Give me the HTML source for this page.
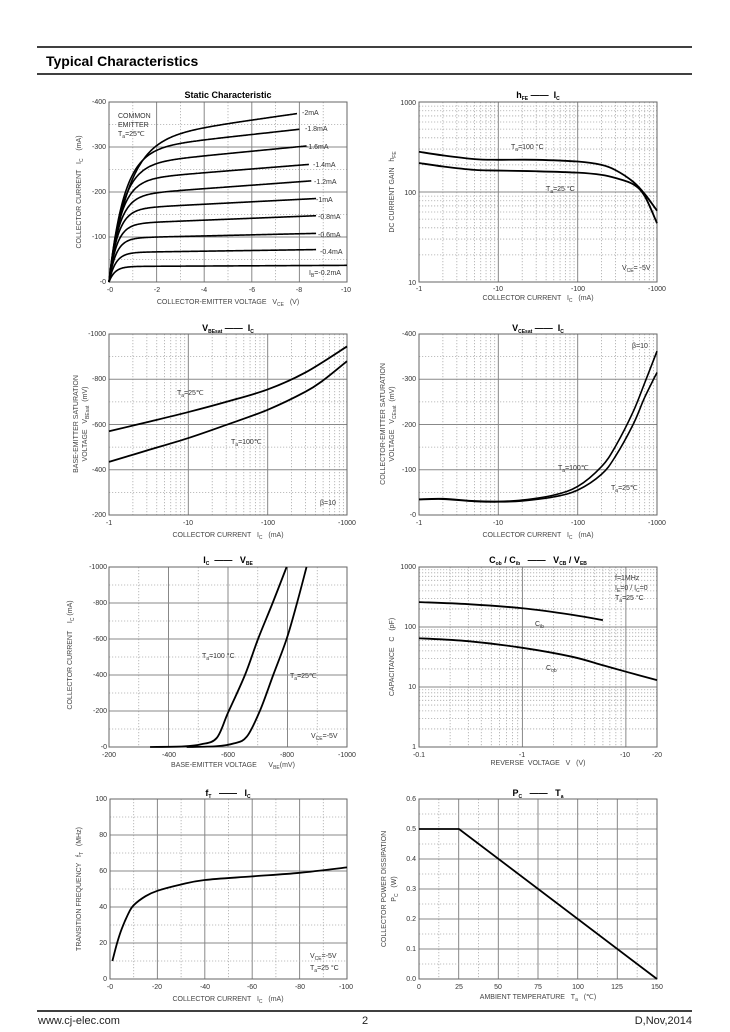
<!DOCTYPE html>
<html><head><meta charset="utf-8"><style>
html,body{margin:0;padding:0;background:#fff}
svg{display:block}
text{font-family:"Liberation Sans",Arial,sans-serif;fill:#333}
.t{font-size:7px;fill:#444}
.a{font-size:7px;fill:#444}
.h{font-size:9px;font-weight:bold;fill:#000}
.s{font-size:5px}
</style></head><body>
<svg id="s" width="730" height="1032" viewBox="0 0 730 1032" xmlns="http://www.w3.org/2000/svg">
<rect width="730" height="1032" fill="#fff"/>
<line x1="37" y1="47" x2="692" y2="47" stroke="#000" stroke-width="1.6"/>
<line x1="37" y1="74" x2="692" y2="74" stroke="#000" stroke-width="1.6"/>
<text x="46" y="66" style="font-size:14px;font-weight:bold;fill:#000">Typical Characteristics</text>
<line x1="37" y1="1011" x2="692" y2="1011" stroke="#000" stroke-width="1.6"/>
<text x="38" y="1024" style="font-size:11px;fill:#222">www.cj-elec.com</text>
<text x="362" y="1024" style="font-size:11px;fill:#222">2</text>
<text x="692" y="1024" text-anchor="end" style="font-size:11px;fill:#222">D,Nov,2014</text>
<g id="g"></g>

<!-- Chart 1 -->
<text class="h" x="228" y="98" text-anchor="middle">Static Characteristic</text>
<g class="t" text-anchor="end"><text x="106" y="104">-400</text><text x="106" y="149">-300</text><text x="106" y="194">-200</text><text x="106" y="239">-100</text><text x="106" y="284">-0</text></g>
<g class="t" text-anchor="middle"><text x="110" y="292">-0</text><text x="157" y="292">-2</text><text x="204" y="292">-4</text><text x="252" y="292">-6</text><text x="299" y="292">-8</text><text x="346" y="292">-10</text></g>
<text class="a" x="228" y="304" text-anchor="middle">COLLECTOR-EMITTER VOLTAGE &#160;&#160;V<tspan class="s" dy="2">CE</tspan><tspan dy="-2"> &#160;&#160;(V)</tspan></text>
<text class="a" transform="translate(81,192) rotate(-90)" text-anchor="middle">COLLECTOR CURRENT &#160;&#160;I<tspan class="s" dy="2">C</tspan><tspan dy="-2"> &#160;&#160;&#160;(mA)</tspan></text>
<g class="a"><text x="118" y="118">COMMON</text><text x="118" y="127">EMITTER</text><text x="118" y="136">T<tspan class="s" dy="2">a</tspan><tspan dy="-2">=25℃</tspan></text>
<text x="302" y="115">-2mA</text><text x="305" y="131">-1.8mA</text><text x="306" y="149">-1.6mA</text><text x="313" y="167">-1.4mA</text><text x="314" y="184">-1.2mA</text><text x="316" y="202">-1mA</text><text x="318" y="219">-0.8mA</text><text x="318" y="237">-0.6mA</text><text x="320" y="254">-0.4mA</text><text x="309" y="275">I<tspan class="s" dy="2">B</tspan><tspan dy="-2">=-0.2mA</tspan></text></g>

<!-- Chart 2 -->
<text class="h" x="538" y="98" text-anchor="middle">h<tspan class="s" dy="2">FE</tspan><tspan dy="-2"> —— &#160;I</tspan><tspan class="s" dy="2">C</tspan></text>
<g class="t" text-anchor="end"><text x="416" y="105">1000</text><text x="416" y="195">100</text><text x="416" y="285">10</text></g>
<g class="t" text-anchor="middle"><text x="419" y="291">-1</text><text x="498" y="291">-10</text><text x="578" y="291">-100</text><text x="657" y="291">-1000</text></g>
<text class="a" x="538" y="300" text-anchor="middle">COLLECTOR CURRENT &#160;&#160;I<tspan class="s" dy="2">C</tspan><tspan dy="-2"> &#160;&#160;(mA)</tspan></text>
<text class="a" transform="translate(394,192) rotate(-90)" text-anchor="middle">DC CURRENT GAIN &#160;&#160;h<tspan class="s" dy="2">FE</tspan></text>
<g class="a"><text x="511" y="149">T<tspan class="s" dy="2">a</tspan><tspan dy="-2">=100 °C</tspan></text><text x="546" y="191">T<tspan class="s" dy="2">a</tspan><tspan dy="-2">=25 °C</tspan></text><text x="622" y="270">V<tspan class="s" dy="2">CE</tspan><tspan dy="-2">= -5V</tspan></text></g>

<!-- Chart 3 -->
<text class="h" x="228" y="331" text-anchor="middle">V<tspan class="s" dy="2">BEsat</tspan><tspan dy="-2"> —— &#160;I</tspan><tspan class="s" dy="2">C</tspan></text>
<g class="t" text-anchor="end"><text x="106" y="336">-1000</text><text x="106" y="381">-800</text><text x="106" y="427">-600</text><text x="106" y="472">-400</text><text x="106" y="517">-200</text></g>
<g class="t" text-anchor="middle"><text x="109" y="525">-1</text><text x="188" y="525">-10</text><text x="268" y="525">-100</text><text x="347" y="525">-1000</text></g>
<text class="a" x="228" y="537" text-anchor="middle">COLLECTOR CURRENT &#160;&#160;I<tspan class="s" dy="2">C</tspan><tspan dy="-2"> &#160;&#160;(mA)</tspan></text>
<text class="a" transform="translate(78,424) rotate(-90)" text-anchor="middle">BASE-EMITTER SATURATION</text>
<text class="a" transform="translate(87,424) rotate(-90)" text-anchor="middle">VOLTAGE &#160;&#160;V<tspan class="s" dy="2">BEsat</tspan><tspan dy="-2"> &#160;(mV)</tspan></text>
<g class="a"><text x="177" y="395">T<tspan class="s" dy="2">a</tspan><tspan dy="-2">=25℃</tspan></text><text x="231" y="444">T<tspan class="s" dy="2">a</tspan><tspan dy="-2">=100℃</tspan></text><text x="320" y="505">β=10</text></g>

<!-- Chart 4 -->
<text class="h" x="538" y="331" text-anchor="middle">V<tspan class="s" dy="2">CEsat</tspan><tspan dy="-2"> —— &#160;I</tspan><tspan class="s" dy="2">C</tspan></text>
<g class="t" text-anchor="end"><text x="416" y="336">-400</text><text x="416" y="381">-300</text><text x="416" y="427">-200</text><text x="416" y="472">-100</text><text x="416" y="517">-0</text></g>
<g class="t" text-anchor="middle"><text x="419" y="525">-1</text><text x="498" y="525">-10</text><text x="578" y="525">-100</text><text x="657" y="525">-1000</text></g>
<text class="a" x="538" y="537" text-anchor="middle">COLLECTOR CURRENT &#160;&#160;I<tspan class="s" dy="2">C</tspan><tspan dy="-2"> &#160;&#160;(mA)</tspan></text>
<text class="a" transform="translate(385,424) rotate(-90)" text-anchor="middle">COLLECTOR-EMITTER SATURATION</text>
<text class="a" transform="translate(394,424) rotate(-90)" text-anchor="middle">VOLTAGE &#160;&#160;V<tspan class="s" dy="2">CEsat</tspan><tspan dy="-2"> &#160;(mV)</tspan></text>
<g class="a"><text x="558" y="470">T<tspan class="s" dy="2">a</tspan><tspan dy="-2">=100℃</tspan></text><text x="611" y="490">T<tspan class="s" dy="2">a</tspan><tspan dy="-2">=25℃</tspan></text><text x="632" y="348">β=10</text></g>

<!-- Chart 5 -->
<text class="h" x="228" y="563" text-anchor="middle">I<tspan class="s" dy="2">C</tspan><tspan dy="-2"> &#160;—— &#160;&#160;V</tspan><tspan class="s" dy="2">BE</tspan></text>
<g class="t" text-anchor="end"><text x="107" y="569">-1000</text><text x="107" y="605">-800</text><text x="107" y="641">-600</text><text x="107" y="677">-400</text><text x="107" y="713">-200</text><text x="107" y="749">-0</text></g>
<g class="t" text-anchor="middle"><text x="109" y="757">-200</text><text x="169" y="757">-400</text><text x="228" y="757">-600</text><text x="287" y="757">-800</text><text x="347" y="757">-1000</text></g>
<text class="a" x="233" y="767" text-anchor="middle">BASE-EMITTER VOLTAGE &#160;&#160;&#160;&#160;&#160;V<tspan class="s" dy="2">BE</tspan><tspan dy="-2">(mV)</tspan></text>
<text class="a" transform="translate(72,655) rotate(-90)" text-anchor="middle">COLLECTOR CURRENT &#160;&#160;&#160;I<tspan class="s" dy="2">C</tspan><tspan dy="-2"> (mA)</tspan></text>
<g class="a"><text x="202" y="658">T<tspan class="s" dy="2">a</tspan><tspan dy="-2">=100 °C</tspan></text><text x="290" y="678">T<tspan class="s" dy="2">a</tspan><tspan dy="-2">=25℃</tspan></text><text x="311" y="738">V<tspan class="s" dy="2">CE</tspan><tspan dy="-2">=-5V</tspan></text></g>

<!-- Chart 6 -->
<text class="h" x="538" y="563" text-anchor="middle">C<tspan class="s" dy="2">ob</tspan><tspan dy="-2"> / C</tspan><tspan class="s" dy="2">ib</tspan><tspan dy="-2"> &#160;&#160;—— &#160;&#160;V</tspan><tspan class="s" dy="2">CB</tspan><tspan dy="-2"> / V</tspan><tspan class="s" dy="2">EB</tspan></text>
<g class="t" text-anchor="end"><text x="416" y="569">1000</text><text x="416" y="629">100</text><text x="416" y="689">10</text><text x="416" y="749">1</text></g>
<g class="t" text-anchor="middle"><text x="419" y="757">-0.1</text><text x="522" y="757">-1</text><text x="625" y="757">-10</text><text x="657" y="757">-20</text></g>
<text class="a" x="538" y="765" text-anchor="middle">REVERSE &#160;VOLTAGE &#160;&#160;V &#160;&#160;(V)</text>
<text class="a" transform="translate(394,657) rotate(-90)" text-anchor="middle">CAPACITANCE &#160;&#160;C &#160;&#160;(pF)</text>
<g class="a"><text x="615" y="580">f=1MHz</text><text x="615" y="590">I<tspan class="s" dy="2">E</tspan><tspan dy="-2">=0 / I</tspan><tspan class="s" dy="2">C</tspan><tspan dy="-2">=0</tspan></text><text x="615" y="600">T<tspan class="s" dy="2">a</tspan><tspan dy="-2">=25 °C</tspan></text><text x="535" y="626">C<tspan class="s" dy="2">ib</tspan></text><text x="546" y="670">C<tspan class="s" dy="2">ob</tspan></text></g>

<!-- Chart 7 -->
<text class="h" x="228" y="796" text-anchor="middle">f<tspan class="s" dy="2">T</tspan><tspan dy="-2"> &#160;&#160;—— &#160;&#160;I</tspan><tspan class="s" dy="2">C</tspan></text>
<g class="t" text-anchor="end"><text x="107" y="801">100</text><text x="107" y="837">80</text><text x="107" y="873">60</text><text x="107" y="909">40</text><text x="107" y="945">20</text><text x="107" y="981">0</text></g>
<g class="t" text-anchor="middle"><text x="110" y="989">-0</text><text x="157" y="989">-20</text><text x="205" y="989">-40</text><text x="252" y="989">-60</text><text x="300" y="989">-80</text><text x="346" y="989">-100</text></g>
<text class="a" x="228" y="1001" text-anchor="middle">COLLECTOR CURRENT &#160;&#160;I<tspan class="s" dy="2">C</tspan><tspan dy="-2"> &#160;&#160;(mA)</tspan></text>
<text class="a" transform="translate(81,889) rotate(-90)" text-anchor="middle">TRANSITION FREQUENCY &#160;&#160;f<tspan class="s" dy="2">T</tspan><tspan dy="-2"> &#160;&#160;(MHz)</tspan></text>
<g class="a"><text x="310" y="958">V<tspan class="s" dy="2">CE</tspan><tspan dy="-2">=-5V</tspan></text><text x="310" y="970">T<tspan class="s" dy="2">a</tspan><tspan dy="-2">=25 °C</tspan></text></g>

<!-- Chart 8 -->
<text class="h" x="538" y="796" text-anchor="middle">P<tspan class="s" dy="2">C</tspan><tspan dy="-2"> &#160;&#160;—— &#160;&#160;T</tspan><tspan class="s" dy="2">a</tspan></text>
<g class="t" text-anchor="end"><text x="416" y="801">0.6</text><text x="416" y="831">0.5</text><text x="416" y="861">0.4</text><text x="416" y="891">0.3</text><text x="416" y="921">0.2</text><text x="416" y="951">0.1</text><text x="416" y="981">0.0</text></g>
<g class="t" text-anchor="middle"><text x="419" y="989">0</text><text x="459" y="989">25</text><text x="498" y="989">50</text><text x="538" y="989">75</text><text x="578" y="989">100</text><text x="617" y="989">125</text><text x="657" y="989">150</text></g>
<text class="a" x="538" y="999" text-anchor="middle">AMBIENT TEMPERATURE &#160;&#160;T<tspan class="s" dy="2">a</tspan><tspan dy="-2"> &#160;&#160;(℃)</tspan></text>
<text class="a" transform="translate(386,889) rotate(-90)" text-anchor="middle">COLLECTOR POWER DISSIPATION</text>
<text class="a" transform="translate(396,889) rotate(-90)" text-anchor="middle">P<tspan class="s" dy="2">C</tspan><tspan dy="-2"> &#160;&#160;(W)</tspan></text>
</svg>
<script>
var G=document.getElementById('g'),NS='http://www.w3.org/2000/svg';
function el(t,a){var e=document.createElementNS(NS,t);for(var k in a)e.setAttribute(k,a[k]);G.appendChild(e);return e;}
function ln(x1,y1,x2,y2,maj){el('line',{x1:x1,y1:y1,x2:x2,y2:y2,stroke:maj?'#888':'#aaa','stroke-width':maj?1:0.8,'stroke-dasharray':maj?'':'1.2,1.8'});}
function vgrid(b,xs,maj){xs.forEach(function(x){ln(x,b[1],x,b[3],maj);});}
function hgrid(b,ys,maj){ys.forEach(function(y){ln(b[0],y,b[2],y,maj);});}
function lin(b,n,axis){var a=[],i;for(i=1;i<n;i++){a.push(axis=='x'?b[0]+(b[2]-b[0])*i/n:b[1]+(b[3]-b[1])*i/n);}return a;}
function frame(b){el('rect',{x:b[0],y:b[1],width:b[2]-b[0],height:b[3]-b[1],fill:'none',stroke:'#666','stroke-width':1});}
function linGrid(b,nx,ny){var mx=lin(b,nx*2,'x'),my=lin(b,ny*2,'y');vgrid(b,mx.filter(function(_,i){return i%2==0;}),0);vgrid(b,mx.filter(function(_,i){return i%2==1;}),1);hgrid(b,my.filter(function(_,i){return i%2==0;}),0);hgrid(b,my.filter(function(_,i){return i%2==1;}),1);}
function logTicks(start,end){var maj=[],min=[];var d=Math.floor(Math.log10(start));for(;Math.pow(10,d)<=end*1.0001;d++){for(var m=1;m<10;m++){var v=m*Math.pow(10,d);if(v<=start*1.0001||v>=end*0.9999)continue;(m==1?maj:min).push(v);}}return [maj,min];}
function logX(b,lo,hi,v){return b[0]+(Math.log10(v)-Math.log10(lo))/(Math.log10(hi)-Math.log10(lo))*(b[2]-b[0]);}
function logY(b,lo,hi,v){return b[3]-(Math.log10(v)-Math.log10(lo))/(Math.log10(hi)-Math.log10(lo))*(b[3]-b[1]);}
function logXGrid(b,lo,hi){var t=logTicks(lo,hi);vgrid(b,t[1].map(function(v){return logX(b,lo,hi,v);}),0);vgrid(b,t[0].map(function(v){return logX(b,lo,hi,v);}),1);}
function logYGrid(b,lo,hi){var t=logTicks(lo,hi);hgrid(b,t[1].map(function(v){return logY(b,lo,hi,v);}),0);hgrid(b,t[0].map(function(v){return logY(b,lo,hi,v);}),1);}
function linYGrid(b,ny){var my=lin(b,ny*2,'y');hgrid(b,my.filter(function(_,i){return i%2==0;}),0);hgrid(b,my.filter(function(_,i){return i%2==1;}),1);}
function smooth(p,w){var d='M'+p[0][0].toFixed(2)+','+p[0][1].toFixed(2);for(var i=0;i<p.length-1;i++){var p0=p[i-1]||p[i],p1=p[i],p2=p[i+1],p3=p[i+2]||p2;var c1=[p1[0]+(p2[0]-p0[0])/6,p1[1]+(p2[1]-p0[1])/6],c2=[p2[0]-(p3[0]-p1[0])/6,p2[1]-(p3[1]-p1[1])/6];d+='C'+c1[0].toFixed(2)+','+c1[1].toFixed(2)+' '+c2[0].toFixed(2)+','+c2[1].toFixed(2)+' '+p2[0].toFixed(2)+','+p2[1].toFixed(2);}el('path',{d:d,fill:'none',stroke:'#000','stroke-width':w||1.8,'stroke-linejoin':'round'});}
var B;
// C1
B=[109,102,347,282];linGrid(B,5,4);frame(B);
[[34.5,.25,.25,10],[65.5,.75,.28,8.7],[97.6,1.2,.3,8.7],[129,2.1,.33,8.7],[162,2.7,.37,8.7],[192,3.85,.42,8.5],[226,4.2,.48,8.4],[260,5.1,.55,8.3],[293,5.8,.62,8.0],[315,7.5,.8,7.9]].forEach(function(c){var p=[];for(var v=0;v<=c[3]+1e-9;v+=0.05){var I=(c[0]+c[1]*v)*(1-Math.exp(-v/c[2]));p.push([109+v/10*238,282-I/400*180]);}smooth(p,1.6);});
// C2
B=[419,102,657,282];logXGrid(B,1,1000);logYGrid(B,10,1000);frame(B);
function c2(d){smooth(d.map(function(q){return [logX(B,1,1000,q[0]),logY(B,10,1000,q[1])];}));}
c2([[1,280],[2,255],[5,232],[10,228],[30,228],[100,218],[200,200],[300,175],[500,130],[700,95],[1000,62]]);
c2([[1,210],[2,192],[5,176],[10,173],[30,170],[100,164],[200,155],[300,143],[500,122],[700,90],[1000,45]]);
// C3
B=[109,334,347,515];logXGrid(B,1,1000);linYGrid(B,4);frame(B);
function c3(d){smooth(d.map(function(q){return [logX(B,1,1000,q[0]),515-(q[1]-200)/800*181];}));}
c3([[1,570],[3,610],[10,655],[30,700],[100,755],[300,830],[1000,945]]);
c3([[1,435],[3,485],[10,540],[30,598],[100,665],[300,745],[500,795],[1000,880]]);
// C4
B=[419,334,657,515];logXGrid(B,1,1000);linYGrid(B,4);frame(B);
function c4(d){smooth(d.map(function(q){return [logX(B,1,1000,q[0]),515-q[1]/400*181];}),1.6);}
c4([[1,34],[2,35],[5,30],[10,29],[20,31],[50,40],[100,55],[200,90],[300,130],[500,200],[700,260],[1000,315]]);
c4([[1,35],[2,36],[5,31],[10,30],[20,33],[50,44],[100,63],[200,107],[300,152],[500,228],[700,292],[1000,362]]);
// C5
B=[109,567,347,747];linGrid(B,4,5);frame(B);
function c5(d){smooth(d.map(function(q){return [109+(q[0]-200)/800*238,747-q[1]/1000*180];}));}
c5([[338,0],[450,3],[510,15],[562,50],[600,190],[657,400],[701,600],[750,800],[797,1000]]);
c5([[461,0],[560,4],[620,20],[663,57],[707,200],[752,400],[797,600],[832,800],[864,1000]]);
// C6
B=[419,567,657,747];logXGrid(B,0.1,20);logYGrid(B,1,1000);frame(B);
function c6(d){smooth(d.map(function(q){return [logX(B,0.1,20,q[0]),logY(B,1,1000,q[1])];}));}
c6([[0.1,260],[0.3,240],[1,205],[3,160],[6,130]]);
c6([[0.1,65],[0.3,58],[1,45],[3,32],[6,23],[10,18],[20,13]]);
// C7
B=[110,799,347,979];linGrid(B,5,5);frame(B);
smooth([[1,10],[3,20],[5,28],[8,37],[10,41],[15,46],[20,49],[30,52.5],[40,55],[60,57],[80,59],[100,62]].map(function(q){return [110+q[0]/100*237,979-q[1]/100*180];}));
// C8
B=[419,799,657,979];linGrid(B,6,6);frame(B);
el('path',{d:'M419,829 L459,829 L657,979',fill:'none',stroke:'#000','stroke-width':1.8});
</script>
</body></html>
